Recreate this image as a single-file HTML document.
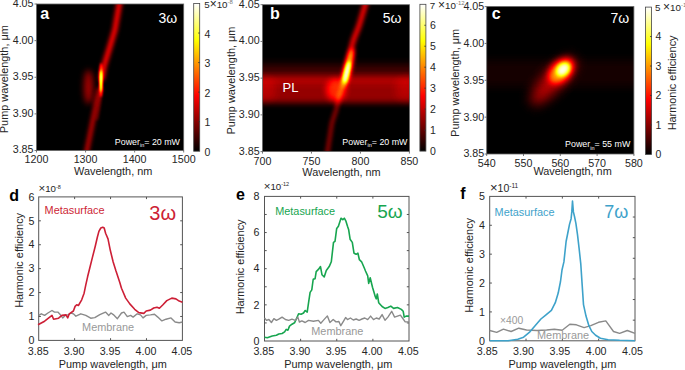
<!DOCTYPE html><html><head><meta charset="utf-8"><style>
html,body{margin:0;padding:0;background:#fff;width:685px;height:370px;overflow:hidden}
svg{display:block;font-family:"Liberation Sans", sans-serif}
</style></head><body>
<svg width="685" height="370" viewBox="0 0 685 370">
<defs>
<filter id="b1" x="-50%" y="-50%" width="200%" height="200%"><feGaussianBlur stdDeviation="1.2"/></filter>
<filter id="b2" x="-50%" y="-50%" width="200%" height="200%"><feGaussianBlur stdDeviation="2.2"/></filter>
<filter id="b3" x="-50%" y="-50%" width="200%" height="200%"><feGaussianBlur stdDeviation="4"/></filter>
<filter id="b5" x="-50%" y="-50%" width="200%" height="200%"><feGaussianBlur stdDeviation="7"/></filter>
<filter id="bband" x="-10%" y="-50%" width="120%" height="200%"><feGaussianBlur stdDeviation="0 3"/></filter>
<linearGradient id="hot" x1="0" y1="1" x2="0" y2="0"><stop offset="0" stop-color="#000"/><stop offset="0.375" stop-color="#f00"/><stop offset="0.75" stop-color="#ff0"/><stop offset="1" stop-color="#fff"/></linearGradient>
<clipPath id="ca"><rect x="36.5" y="4" width="147.2" height="146.5"/></clipPath>
<clipPath id="cb"><rect x="262.5" y="4.7" width="147" height="146.9"/></clipPath>
<clipPath id="cc"><rect x="486.7" y="6.6" width="147.2" height="147.4"/></clipPath>
</defs>
<filter id="hotmap" x="0" y="0" width="100%" height="100%" color-interpolation-filters="sRGB"><feComponentTransfer><feFuncR type="table" tableValues="0 0.3333 0.6667 1 1 1 1 1 1"/><feFuncG type="table" tableValues="0 0 0 0 0.3333 0.6667 1 1 1"/><feFuncB type="table" tableValues="0 0 0 0 0 0 0 0.5 1"/></feComponentTransfer></filter>
<filter id="g1" x="-100%" y="-100%" width="300%" height="300%" color-interpolation-filters="sRGB"><feGaussianBlur stdDeviation="1.0 1.0"/></filter>
<filter id="g15" x="-100%" y="-100%" width="300%" height="300%" color-interpolation-filters="sRGB"><feGaussianBlur stdDeviation="1.5 1.5"/></filter>
<filter id="g2" x="-100%" y="-100%" width="300%" height="300%" color-interpolation-filters="sRGB"><feGaussianBlur stdDeviation="2.0 2.0"/></filter>
<filter id="g3" x="-100%" y="-100%" width="300%" height="300%" color-interpolation-filters="sRGB"><feGaussianBlur stdDeviation="3.0 3.0"/></filter>
<filter id="g4" x="-100%" y="-100%" width="300%" height="300%" color-interpolation-filters="sRGB"><feGaussianBlur stdDeviation="4.0 4.0"/></filter>
<filter id="g6" x="-100%" y="-100%" width="300%" height="300%" color-interpolation-filters="sRGB"><feGaussianBlur stdDeviation="6.0 6.0"/></filter>
<filter id="g8" x="-100%" y="-100%" width="300%" height="300%" color-interpolation-filters="sRGB"><feGaussianBlur stdDeviation="8.0 8.0"/></filter>
<filter id="gb" x="-100%" y="-100%" width="300%" height="300%" color-interpolation-filters="sRGB"><feGaussianBlur stdDeviation="0.8 3.0"/></filter>
<filter id="gb2" x="-100%" y="-100%" width="300%" height="300%" color-interpolation-filters="sRGB"><feGaussianBlur stdDeviation="0.8 4.5"/></filter>
<g clip-path="url(#ca)"><g filter="url(#hotmap)">
<rect x="30" y="0" width="160" height="160" fill="#000"/>
<ellipse cx="88.5" cy="87" rx="4.5" ry="17" fill="#fff" fill-opacity="0.25" filter="url(#g3)"/>
<path d="M120,-2 L119.3,4 L114.9,30 L108.9,50 L104,66 L101.5,80" stroke="#fff" stroke-opacity="0.40" stroke-width="5" fill="none" filter="url(#g2)"/>
<path d="M100,88 L96.5,103 L93,120 L87,150 L86,156" stroke="#fff" stroke-opacity="0.31" stroke-width="4.2" fill="none" filter="url(#g2)"/>
<path d="M101,92 L99,108 L97,120" stroke="#fff" stroke-opacity="0.15" stroke-width="2" fill="none" filter="url(#g15)"/>
<ellipse cx="101.0" cy="80" rx="1.8" ry="17" fill="#fff" fill-opacity="0.45" filter="url(#g1)"/>
<ellipse cx="101.0" cy="81" rx="1.1" ry="11" fill="#fff" fill-opacity="1.0" filter="url(#g1)"/>
</g></g>
<g clip-path="url(#cb)"><g filter="url(#hotmap)">
<rect x="255" y="0" width="160" height="160" fill="#000"/>
<rect x="240" y="76" width="200" height="27" fill="#fff" fill-opacity="0.22" filter="url(#gb)"/>
<rect x="240" y="65" width="200" height="17" fill="#fff" fill-opacity="0.10" filter="url(#gb2)"/>
<ellipse cx="266" cy="89" rx="10" ry="12" fill="#fff" fill-opacity="0.07" filter="url(#g4)"/>
<ellipse cx="405" cy="89" rx="10" ry="12" fill="#fff" fill-opacity="0.07" filter="url(#g4)"/>
<ellipse cx="336" cy="90" rx="10" ry="11" fill="#fff" fill-opacity="0.28" filter="url(#g3)"/>
<path d="M367,-2 L365.5,4 L359,26 L353.5,40 L350.3,52 L347.5,68 L345,80" stroke="#fff" stroke-opacity="0.38" stroke-width="5" fill="none" stroke-linecap="round" filter="url(#g2)"/>
<path d="M345,80 L342.7,86 L339.5,95 L336.2,110 L331.9,123 L327,155" stroke="#fff" stroke-opacity="0.32" stroke-width="2.8" fill="none" filter="url(#g2)"/>
<ellipse cx="348" cy="68" rx="4.0" ry="20" fill="#fff" fill-opacity="0.5" transform="rotate(14 348 68)" filter="url(#g2)"/>
<ellipse cx="346.8" cy="72" rx="2.2" ry="11" fill="#fff" fill-opacity="1.0" transform="rotate(14 346.8 72)" filter="url(#g15)"/>
</g></g>
<g clip-path="url(#cc)"><g filter="url(#hotmap)">
<rect x="480" y="0" width="160" height="160" fill="#000"/>
<rect x="470" y="60" width="180" height="27" fill="#fff" fill-opacity="0.032" filter="url(#g4)"/>
<ellipse cx="553" cy="81" rx="10" ry="31" fill="#fff" fill-opacity="0.26" transform="rotate(43 553 81)" filter="url(#g6)"/>
<ellipse cx="561" cy="71" rx="10" ry="15" fill="#fff" fill-opacity="0.45" transform="rotate(45 561 71)" filter="url(#g3)"/>
<ellipse cx="563" cy="69.5" rx="5.5" ry="7.5" fill="#fff" fill-opacity="0.95" transform="rotate(45 563 69.5)" filter="url(#g2)"/>
</g></g>
<rect x="36.5" y="4" width="147.2" height="146.5" fill="none" stroke="#666" stroke-width="0.8"/>
<rect x="262.5" y="4.7" width="147" height="146.9" fill="none" stroke="#666" stroke-width="0.8"/>
<rect x="486.7" y="6.6" width="147.2" height="147.4" fill="none" stroke="#666" stroke-width="0.8"/>
<rect x="193.7" y="3.5" width="6" height="147.7" fill="url(#hot)" stroke="#444" stroke-width="0.8"/>
<rect x="419.9" y="4.3" width="6" height="146.79999999999998" fill="url(#hot)" stroke="#444" stroke-width="0.8"/>
<rect x="645.6" y="7.1" width="6" height="147.3" fill="url(#hot)" stroke="#444" stroke-width="0.8"/>
<path d="M34.5,4.0h2 M34.5,40.625h2 M34.5,77.25h2 M34.5,113.875h2 M34.5,150.5h2 M36.5,150.5v2 M85.56666666666666,150.5v2 M134.63333333333333,150.5v2 M183.7,150.5v2" stroke="#555" stroke-width="0.8"/>
<path d="M260.5,4.7h2 M260.5,41.425000000000004h2 M260.5,78.15h2 M260.5,114.87500000000001h2 M260.5,151.6h2 M262.5,151.6v2 M311.46666666666664,151.6v2 M360.43333333333334,151.6v2 M409.4,151.6v2" stroke="#555" stroke-width="0.8"/>
<path d="M484.7,6.6h2 M484.7,43.45h2 M484.7,80.3h2 M484.7,117.15h2 M484.7,154.0h2 M486.7,154v2 M523.5,154v2 M560.3,154v2 M597.1,154v2 M633.9,154v2" stroke="#555" stroke-width="0.8"/>
<text x="33.5" y="6.9" font-size="10.7" text-anchor="end" fill="#262626" font-weight="normal" >4.05</text>
<text x="33.5" y="43.52" font-size="10.7" text-anchor="end" fill="#262626" font-weight="normal" >4.00</text>
<text x="33.5" y="80.15" font-size="10.7" text-anchor="end" fill="#262626" font-weight="normal" >3.95</text>
<text x="33.5" y="116.78" font-size="10.7" text-anchor="end" fill="#262626" font-weight="normal" >3.90</text>
<text x="33.5" y="153.4" font-size="10.7" text-anchor="end" fill="#262626" font-weight="normal" >3.85</text>
<text x="259.6" y="7.6" font-size="10.7" text-anchor="end" fill="#262626" font-weight="normal" >4.05</text>
<text x="259.6" y="44.33" font-size="10.7" text-anchor="end" fill="#262626" font-weight="normal" >4.00</text>
<text x="259.6" y="81.05" font-size="10.7" text-anchor="end" fill="#262626" font-weight="normal" >3.95</text>
<text x="259.6" y="117.78" font-size="10.7" text-anchor="end" fill="#262626" font-weight="normal" >3.90</text>
<text x="259.6" y="154.5" font-size="10.7" text-anchor="end" fill="#262626" font-weight="normal" >3.85</text>
<text x="484.2" y="10.0" font-size="10.7" text-anchor="end" fill="#262626" font-weight="normal" >4.05</text>
<text x="484.2" y="46.85" font-size="10.7" text-anchor="end" fill="#262626" font-weight="normal" >4.00</text>
<text x="484.2" y="83.7" font-size="10.7" text-anchor="end" fill="#262626" font-weight="normal" >3.95</text>
<text x="484.2" y="120.55" font-size="10.7" text-anchor="end" fill="#262626" font-weight="normal" >3.90</text>
<text x="484.2" y="157.4" font-size="10.7" text-anchor="end" fill="#262626" font-weight="normal" >3.85</text>
<text x="36.5" y="163.4" font-size="10.7" text-anchor="middle" fill="#262626" font-weight="normal" >1200</text>
<text x="85.56666666666666" y="163.4" font-size="10.7" text-anchor="middle" fill="#262626" font-weight="normal" >1300</text>
<text x="134.63333333333333" y="163.4" font-size="10.7" text-anchor="middle" fill="#262626" font-weight="normal" >1400</text>
<text x="183.7" y="163.4" font-size="10.7" text-anchor="middle" fill="#262626" font-weight="normal" >1500</text>
<text x="262.5" y="164.8" font-size="10.7" text-anchor="middle" fill="#262626" font-weight="normal" >700</text>
<text x="311.46666666666664" y="164.8" font-size="10.7" text-anchor="middle" fill="#262626" font-weight="normal" >750</text>
<text x="360.43333333333334" y="164.8" font-size="10.7" text-anchor="middle" fill="#262626" font-weight="normal" >800</text>
<text x="409.4" y="164.8" font-size="10.7" text-anchor="middle" fill="#262626" font-weight="normal" >850</text>
<text x="486.7" y="166.8" font-size="10.7" text-anchor="middle" fill="#262626" font-weight="normal" >540</text>
<text x="523.5" y="166.8" font-size="10.7" text-anchor="middle" fill="#262626" font-weight="normal" >550</text>
<text x="560.3" y="166.8" font-size="10.7" text-anchor="middle" fill="#262626" font-weight="normal" >560</text>
<text x="597.1" y="166.8" font-size="10.7" text-anchor="middle" fill="#262626" font-weight="normal" >570</text>
<text x="633.9" y="166.8" font-size="10.7" text-anchor="middle" fill="#262626" font-weight="normal" >580</text>
<text x="113.2" y="175.3" font-size="10.9" text-anchor="middle" fill="#262626" font-weight="normal" >Wavelength, nm</text>
<text x="341.5" y="175.9" font-size="10.9" text-anchor="middle" fill="#262626" font-weight="normal" >Wavelength, nm</text>
<text x="572.6" y="174.7" font-size="10.9" text-anchor="middle" fill="#262626" font-weight="normal" >Wavelength, nm</text>
<text x="0" y="0" font-size="10.9" text-anchor="middle" fill="#262626" transform="translate(8.0,79.2) rotate(-90)">Pump wavelength, μm</text>
<text x="0" y="0" font-size="10.9" text-anchor="middle" fill="#262626" transform="translate(234.6,80.6) rotate(-90)">Pump wavelength, μm</text>
<text x="0" y="0" font-size="10.9" text-anchor="middle" fill="#262626" transform="translate(459.1,82.9) rotate(-90)">Pump wavelength, μm</text>
<text x="0" y="0" font-size="10.9" text-anchor="middle" fill="#262626" transform="translate(675.5,82.9) rotate(-90)">Harmonic efficiency</text>
<text x="204.5" y="156.0" font-size="10.5" text-anchor="start" fill="#262626" font-weight="normal" >0</text>
<text x="204.5" y="126.46" font-size="10.5" text-anchor="start" fill="#262626" font-weight="normal" >1</text>
<text x="204.5" y="96.92" font-size="10.5" text-anchor="start" fill="#262626" font-weight="normal" >2</text>
<text x="204.5" y="67.38" font-size="10.5" text-anchor="start" fill="#262626" font-weight="normal" >3</text>
<text x="204.5" y="37.84" font-size="10.5" text-anchor="start" fill="#262626" font-weight="normal" >4</text>
<path d="M199.7,121.66h-1.6M199.7,92.12h-1.6M199.7,62.58h-1.6M199.7,33.04h-1.6" stroke="#333" stroke-width="0.8"/>
<text x="430" y="155.3" font-size="10.5" text-anchor="start" fill="#262626" font-weight="normal" >0</text>
<text x="430" y="134.33" font-size="10.5" text-anchor="start" fill="#262626" font-weight="normal" >1</text>
<text x="430" y="113.36" font-size="10.5" text-anchor="start" fill="#262626" font-weight="normal" >2</text>
<text x="430" y="92.39" font-size="10.5" text-anchor="start" fill="#262626" font-weight="normal" >3</text>
<text x="430" y="71.41" font-size="10.5" text-anchor="start" fill="#262626" font-weight="normal" >4</text>
<text x="430" y="50.44" font-size="10.5" text-anchor="start" fill="#262626" font-weight="normal" >5</text>
<text x="430" y="29.47" font-size="10.5" text-anchor="start" fill="#262626" font-weight="normal" >6</text>
<path d="M425.9,130.13h-1.6M425.9,109.16h-1.6M425.9,88.19h-1.6M425.9,67.21h-1.6M425.9,46.24h-1.6M425.9,25.27h-1.6" stroke="#333" stroke-width="0.8"/>
<text x="655.5" y="158.1" font-size="10.5" text-anchor="start" fill="#262626" font-weight="normal" >0</text>
<text x="655.5" y="128.64" font-size="10.5" text-anchor="start" fill="#262626" font-weight="normal" >1</text>
<text x="655.5" y="99.18" font-size="10.5" text-anchor="start" fill="#262626" font-weight="normal" >2</text>
<text x="655.5" y="69.72" font-size="10.5" text-anchor="start" fill="#262626" font-weight="normal" >3</text>
<text x="655.5" y="40.26" font-size="10.5" text-anchor="start" fill="#262626" font-weight="normal" >4</text>
<path d="M651.6,124.94h-1.6M651.6,95.48h-1.6M651.6,66.02h-1.6M651.6,36.56h-1.6" stroke="#333" stroke-width="0.8"/>
<text x="204.2" y="7.8" font-size="9.8" text-anchor="start" fill="#262626" font-weight="normal" >5<tspan font-size="12">×</tspan>10<tspan font-size="6" dy="-3.8" fill="#777">-8</tspan></text>
<text x="429.8" y="8.6" font-size="9.8" text-anchor="start" fill="#262626" font-weight="normal" >7 <tspan font-size="12">×</tspan>10<tspan font-size="6" dy="-3.8" fill="#777">-12</tspan></text>
<text x="654.9" y="10.6" font-size="9.8" text-anchor="start" fill="#262626" font-weight="normal" >5 <tspan font-size="12">×</tspan>10<tspan font-size="6" dy="-3.8" fill="#777">-11</tspan></text>
<text x="40.3" y="18.8" font-size="16" text-anchor="start" fill="#fff" font-weight="bold" >a</text>
<text x="270.0" y="19.2" font-size="16" text-anchor="start" fill="#fff" font-weight="bold" >b</text>
<text x="491.8" y="19.0" font-size="16" text-anchor="start" fill="#fff" font-weight="bold" >c</text>
<text x="177.2" y="23.2" font-size="14" text-anchor="end" fill="#fff" font-weight="normal" >3ω</text>
<text x="401.5" y="23.2" font-size="14" text-anchor="end" fill="#fff" font-weight="normal" >5ω</text>
<text x="629.2" y="22.9" font-size="14" text-anchor="end" fill="#fff" font-weight="normal" >7ω</text>
<text x="282.5" y="92" font-size="13" text-anchor="start" fill="#fff" font-weight="normal" >PL</text>
<text x="180" y="144.8" font-size="8.9" text-anchor="end" fill="#fff" font-weight="normal" >Power<tspan font-size="5.5" dy="2.5">in</tspan><tspan dy="-2.5">= 20 mW</tspan></text>
<text x="407.5" y="144.8" font-size="8.9" text-anchor="end" fill="#fff" font-weight="normal" >Power<tspan font-size="5.5" dy="2.5">in</tspan><tspan dy="-2.5">= 20 mW</tspan></text>
<text x="630.3" y="147.3" font-size="8.9" text-anchor="end" fill="#fff" font-weight="normal" >Power<tspan font-size="5.5" dy="2.5">in</tspan><tspan dy="-2.5">= 55 mW</tspan></text>
<rect x="38.7" y="196.9" width="143.7" height="143.49999999999997" fill="none" stroke="#555" stroke-width="1"/>
<path d="M74.62,340.4v-2.2M74.62,196.9v2.2M110.55,340.4v-2.2M110.55,196.9v2.2M146.47,340.4v-2.2M146.47,196.9v2.2M38.7,220.82h2.2M38.7,244.73h2.2M38.7,268.65h2.2M38.7,292.57h2.2M38.7,316.48h2.2M182.4,220.82h-2.2M182.4,244.73h-2.2M182.4,268.65h-2.2M182.4,292.57h-2.2M182.4,316.48h-2.2" stroke="#555" stroke-width="1" fill="none"/>
<rect x="264.5" y="196.4" width="144.5" height="144.6" fill="none" stroke="#555" stroke-width="1"/>
<path d="M300.62,341v-2.2M300.62,196.4v2.2M336.75,341v-2.2M336.75,196.4v2.2M372.88,341v-2.2M372.88,196.4v2.2M264.5,214.47h2.2M264.5,232.55h2.2M264.5,250.62h2.2M264.5,268.70h2.2M264.5,286.77h2.2M264.5,304.85h2.2M264.5,322.93h2.2M409,214.47h-2.2M409,232.55h-2.2M409,250.62h-2.2M409,268.70h-2.2M409,286.77h-2.2M409,304.85h-2.2M409,322.93h-2.2" stroke="#555" stroke-width="1" fill="none"/>
<rect x="489.7" y="196.4" width="145.3" height="144.4" fill="none" stroke="#555" stroke-width="1"/>
<path d="M526.02,340.8v-2.2M526.02,196.4v2.2M562.35,340.8v-2.2M562.35,196.4v2.2M598.67,340.8v-2.2M598.67,196.4v2.2M489.7,225.28h2.2M489.7,254.16h2.2M489.7,283.04h2.2M489.7,311.92h2.2M635,217.03h-2.2M635,237.66h-2.2M635,258.29h-2.2M635,278.91h-2.2M635,299.54h-2.2M635,320.17h-2.2" stroke="#555" stroke-width="1" fill="none"/>
<text x="38.2" y="354.6" font-size="10.7" text-anchor="middle" fill="#262626" font-weight="normal" >3.85</text>
<text x="74.12" y="354.6" font-size="10.7" text-anchor="middle" fill="#262626" font-weight="normal" >3.90</text>
<text x="110.05" y="354.6" font-size="10.7" text-anchor="middle" fill="#262626" font-weight="normal" >3.95</text>
<text x="145.97" y="354.6" font-size="10.7" text-anchor="middle" fill="#262626" font-weight="normal" >4.00</text>
<text x="181.9" y="354.6" font-size="10.7" text-anchor="middle" fill="#262626" font-weight="normal" >4.05</text>
<text x="263.8" y="354.6" font-size="10.7" text-anchor="middle" fill="#262626" font-weight="normal" >3.85</text>
<text x="299.93" y="354.6" font-size="10.7" text-anchor="middle" fill="#262626" font-weight="normal" >3.90</text>
<text x="336.05" y="354.6" font-size="10.7" text-anchor="middle" fill="#262626" font-weight="normal" >3.95</text>
<text x="372.18" y="354.6" font-size="10.7" text-anchor="middle" fill="#262626" font-weight="normal" >4.00</text>
<text x="408.3" y="354.6" font-size="10.7" text-anchor="middle" fill="#262626" font-weight="normal" >4.05</text>
<text x="487.2" y="354.6" font-size="10.7" text-anchor="middle" fill="#262626" font-weight="normal" >3.85</text>
<text x="523.52" y="354.6" font-size="10.7" text-anchor="middle" fill="#262626" font-weight="normal" >3.90</text>
<text x="559.85" y="354.6" font-size="10.7" text-anchor="middle" fill="#262626" font-weight="normal" >3.95</text>
<text x="596.17" y="354.6" font-size="10.7" text-anchor="middle" fill="#262626" font-weight="normal" >4.00</text>
<text x="632.5" y="354.6" font-size="10.7" text-anchor="middle" fill="#262626" font-weight="normal" >4.05</text>
<text x="112.8" y="367.5" font-size="10.9" text-anchor="middle" fill="#262626" font-weight="normal" >Pump wavelength, μm</text>
<text x="338.3" y="367.5" font-size="10.9" text-anchor="middle" fill="#262626" font-weight="normal" >Pump wavelength, μm</text>
<text x="562.4" y="367.5" font-size="10.9" text-anchor="middle" fill="#262626" font-weight="normal" >Pump wavelength, μm</text>
<text x="34.4" y="344.09999999999997" font-size="10.7" text-anchor="end" fill="#262626" font-weight="normal" >0</text>
<text x="34.4" y="320.1833333333333" font-size="10.7" text-anchor="end" fill="#262626" font-weight="normal" >1</text>
<text x="34.4" y="296.26666666666665" font-size="10.7" text-anchor="end" fill="#262626" font-weight="normal" >2</text>
<text x="34.4" y="272.34999999999997" font-size="10.7" text-anchor="end" fill="#262626" font-weight="normal" >3</text>
<text x="34.4" y="248.43333333333334" font-size="10.7" text-anchor="end" fill="#262626" font-weight="normal" >4</text>
<text x="34.4" y="224.51666666666665" font-size="10.7" text-anchor="end" fill="#262626" font-weight="normal" >5</text>
<text x="34.4" y="200.6" font-size="10.7" text-anchor="end" fill="#262626" font-weight="normal" >6</text>
<text x="259.5" y="344.7" font-size="10.7" text-anchor="end" fill="#262626" font-weight="normal" >0</text>
<text x="259.5" y="308.55" font-size="10.7" text-anchor="end" fill="#262626" font-weight="normal" >2</text>
<text x="259.5" y="272.4" font-size="10.7" text-anchor="end" fill="#262626" font-weight="normal" >4</text>
<text x="259.5" y="236.25" font-size="10.7" text-anchor="end" fill="#262626" font-weight="normal" >6</text>
<text x="259.5" y="200.1" font-size="10.7" text-anchor="end" fill="#262626" font-weight="normal" >8</text>
<text x="485" y="344.5" font-size="10.7" text-anchor="end" fill="#262626" font-weight="normal" >0</text>
<text x="485" y="315.62" font-size="10.7" text-anchor="end" fill="#262626" font-weight="normal" >1</text>
<text x="485" y="286.74" font-size="10.7" text-anchor="end" fill="#262626" font-weight="normal" >2</text>
<text x="485" y="257.86" font-size="10.7" text-anchor="end" fill="#262626" font-weight="normal" >3</text>
<text x="485" y="228.98" font-size="10.7" text-anchor="end" fill="#262626" font-weight="normal" >4</text>
<text x="485" y="200.1" font-size="10.7" text-anchor="end" fill="#262626" font-weight="normal" >5</text>
<text x="0" y="0" font-size="10.9" text-anchor="middle" fill="#262626" transform="translate(22.9,260.4) rotate(-90)">Harmonic efficiency</text>
<text x="0" y="0" font-size="10.9" text-anchor="middle" fill="#262626" transform="translate(244.0,266.9) rotate(-90)">Harmonic efficiency</text>
<text x="0" y="0" font-size="10.9" text-anchor="middle" fill="#262626" transform="translate(473.1,265.4) rotate(-90)">Harmonic efficiency</text>
<text x="38.5" y="192" font-size="9.7" text-anchor="start" fill="#262626" font-weight="normal" ><tspan font-size="11.5">×</tspan>10<tspan font-size="5.5" dy="-3.3">-8</tspan></text>
<text x="263.7" y="189.5" font-size="9.7" text-anchor="start" fill="#262626" font-weight="normal" ><tspan font-size="11.5">×</tspan>10<tspan font-size="5.5" dy="-3.3">-12</tspan></text>
<text x="490.0" y="192.1" font-size="10.5" text-anchor="start" fill="#262626" font-weight="normal" ><tspan font-size="13">×</tspan>10<tspan font-size="6.5" dy="-4">-11</tspan></text>
<text x="9.2" y="200.5" font-size="16" text-anchor="start" fill="#000" font-weight="bold" >d</text>
<text x="236.0" y="200.3" font-size="16" text-anchor="start" fill="#000" font-weight="bold" >e</text>
<text x="460.3" y="198.5" font-size="16" text-anchor="start" fill="#000" font-weight="bold" >f</text>
<text x="82.1" y="331.1" font-size="10.9" text-anchor="start" fill="#999" font-weight="normal" >Membrane</text>
<text x="311.3" y="334.5" font-size="10.9" text-anchor="start" fill="#999" font-weight="normal" >Membrane</text>
<text x="537.0" y="339.3" font-size="10.9" text-anchor="start" fill="#999" font-weight="normal" >Membrane</text>
<text x="500.0" y="323.8" font-size="10.3" text-anchor="start" fill="#999" font-weight="normal" >×400</text>
<polyline points="38.7,315.4 41.3,313.8 44.6,315.4 47.9,313.0 52.0,310.5 54.5,312.1 57.8,312.1 60.2,314.6 62.7,317.9 65.2,315.4 68.5,314.6 71.0,313.0 73.4,313.8 75.9,316.2 80.8,313.8 85.8,315.4 90.7,318.2 94.8,317.6 99.8,314.6 105.5,312.1 108.8,315.4 111.0,313.0 113.3,314.6 117.4,318.7 121.5,313.0 124.0,312.1 127.3,316.6 130.6,315.4 133.1,317.1 137.2,313.8 140.5,314.9 143.0,317.9 146.2,315.4 150.4,314.9 154.5,314.3 157.8,317.1 161.9,320.9 166.0,319.2 171.0,317.9 175.1,322.0 179.2,322.8 182.4,322.0" fill="none" stroke="#8a8a8a" stroke-width="1.4" stroke-linejoin="round"/>
<polyline points="38.0,324.8 44.6,321.2 52.0,315.4 53.6,319.2 58.6,318.2 61.9,315.4 66.0,314.9 67.7,317.9 69.3,313.8 73.4,311.0 75.1,306.4 76.7,304.7 78.4,305.5 81.7,299.8 84.1,293.2 85.8,284.9 87.6,276.8 90.4,265.5 92.3,257.9 95.2,246.5 97.4,237.0 98.9,231.4 100.8,228.0 102.7,227.2 104.2,228.0 105.6,233.3 108.0,238.9 110.3,250.3 113.1,261.7 116.0,271.1 119.8,282.5 121.5,288.2 125.7,298.1 129.8,303.9 134.7,309.3 138.8,312.6 143.8,313.4 146.2,311.0 150.4,310.1 153.7,308.0 157.0,307.2 159.4,308.3 162.7,305.0 166.8,300.6 171.8,298.1 175.9,298.9 179.2,301.1 182.4,302.2" fill="none" stroke="#cd1f36" stroke-width="1.6" stroke-linejoin="round"/>
<polyline points="264.5,337.3 267.3,337.7 272.2,336.0 276.4,335.2 278.8,334.0 282.1,333.5 284.6,331.9 286.2,329.4 287.9,330.2 289.5,326.1 292.0,324.2 294.5,322.8 296.1,319.5 298.6,313.8 301.1,314.3 303.5,313.0 305.2,310.5 307.2,312.1 308.5,303.1 310.1,292.4 311.8,289.9 313.1,280.0 313.4,279.1 315.1,278.7 316.2,271.6 318.4,269.4 320.5,266.6 322.0,274.8 324.2,277.0 326.3,270.5 329.2,266.6 331.3,261.8 333.5,242.4 335.0,241.3 336.7,228.4 338.4,226.2 341.0,218.2 342.8,219.7 344.3,218.2 345.8,220.8 347.5,226.2 348.6,229.4 350.1,239.2 352.3,242.4 354.0,253.2 356.2,254.3 357.9,253.2 359.4,259.7 361.6,261.8 364.4,268.3 365.5,271.0 367.7,275.8 368.7,283.4 370.2,277.7 372.5,287.3 375.4,296.9 376.3,298.8 377.3,294.0 378.7,302.7 382.1,306.5 385.0,308.4 387.9,307.5 390.8,306.1 393.6,308.4 397.5,307.5 401.3,309.4 403.2,311.3 404.2,317.1 406.1,316.1 409.0,316.1" fill="none" stroke="#17a54f" stroke-width="1.6" stroke-linejoin="round"/>
<polyline points="264.5,317.9 266.5,320.4 268.9,319.5 271.4,322.5 273.9,318.7 276.4,320.4 278.8,319.2 282.1,317.1 285.4,319.5 288.7,320.4 292.0,319.2 295.3,320.4 297.8,317.1 299.4,322.0 301.9,320.9 305.2,322.5 308.5,320.4 313.4,321.2 318.4,320.4 320.8,323.2 323.3,320.4 327.4,315.9 329.9,322.5 333.2,319.5 336.0,321.9 338.9,321.5 340.8,325.7 343.7,320.9 345.6,317.6 347.5,319.6 350.4,318.0 353.3,320.0 356.2,319.0 359.1,320.3 361.9,319.0 364.8,318.0 367.7,319.6 370.6,316.1 373.5,319.6 376.3,318.0 379.2,319.0 382.1,314.6 385.0,320.3 387.9,317.1 391.7,311.3 394.6,317.1 397.5,316.1 400.4,315.1 403.2,319.0 405.2,321.9 409.0,321.9" fill="none" stroke="#8a8a8a" stroke-width="1.4" stroke-linejoin="round"/>
<polyline points="489.7,330.5 496.7,332.4 503.4,329.2 511.1,331.5 518.8,328.2 526.5,330.0 537.0,330.5 546.6,330.0 554.3,329.2 562.2,330.3 569.8,324.2 576.4,324.8 584.1,327.6 590.8,325.7 598.5,322.3 605.8,320.9 613.5,331.5 619.6,333.4 627.3,330.5 635.0,333.4" fill="none" stroke="#8a8a8a" stroke-width="1.4" stroke-linejoin="round"/>
<polyline points="489.7,340.7 508.2,340.7 517.8,339.2 523.6,337.2 529.3,332.4 535.1,325.7 540.9,319.0 545.7,315.1 551.4,310.3 555.3,302.7 558.2,293.1 560.5,281.5 562.0,270.0 563.9,261.9 566.1,241.5 567.7,233.5 569.5,224.4 571.1,218.7 571.8,211.9 572.5,201.0 573.4,211.9 574.5,216.5 575.9,223.3 577.5,234.6 579.1,248.3 580.8,264.2 582.2,285.4 583.5,304.6 586.0,316.1 588.9,325.7 591.8,331.5 595.6,335.3 600.4,338.2 608.1,339.7 619.6,340.3 635.0,340.7" fill="none" stroke="#3ea2ca" stroke-width="1.6" stroke-linejoin="round"/>
<text x="44.6" y="214.3" font-size="10.9" text-anchor="start" fill="#cd1f36" font-weight="normal" >Metasurface</text>
<text x="275.2" y="214.5" font-size="10.9" text-anchor="start" fill="#17a54f" font-weight="normal" >Metasurface</text>
<text x="494.6" y="216" font-size="10.9" text-anchor="start" fill="#3ea2ca" font-weight="normal" >Metasurface</text>
<text x="149.3" y="219.9" font-size="20" text-anchor="start" fill="#cd1f36" font-weight="normal" >3ω</text>
<text x="377.3" y="218.2" font-size="19" text-anchor="start" fill="#17a54f" font-weight="normal" >5ω</text>
<text x="604.3" y="217.8" font-size="18" text-anchor="start" fill="#3ea2ca" font-weight="normal" >7ω</text>
</svg></body></html>
